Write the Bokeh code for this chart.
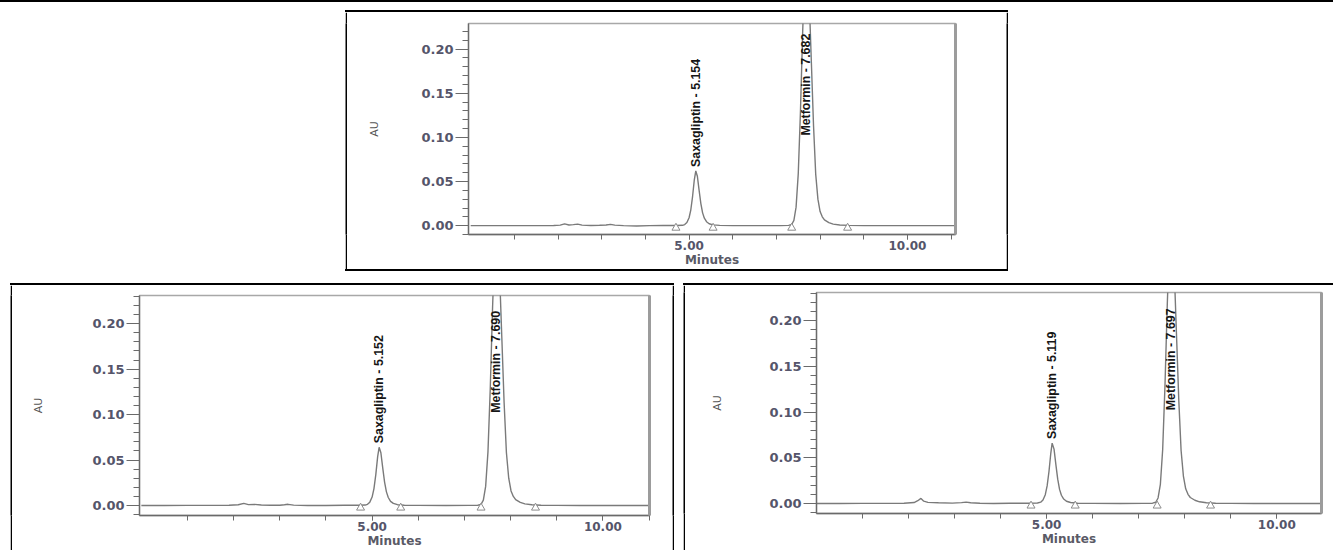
import math
from bokeh.plotting import figure
from bokeh.models import Range1d, FixedTicker, LinearAxis, NumeralTickFormatter, Spacer
from bokeh.layouts import row, column
from bokeh.embed import file_html
from bokeh.resources import INLINE
from bokeh.core.properties import value

# ---------------- data ----------------
peak_names = ["Saxagliptin", "Metformin"]

rt_top = [5.154, 7.682]
rt_bl = [5.152, 7.690]
rt_br = [5.119, 7.697]

apex_top = [0.062, 0.300]
apex_bl = [0.064, 0.300]
apex_br = [0.066, 0.300]

# baseline start / end markers (minutes)
marks_top = [4.70, 5.55, 7.35, 8.63]
marks_bl = [4.75, 5.62, 7.36, 8.54]
marks_br = [4.66, 5.62, 7.40, 8.56]

trace_top_t = [0.00, 0.50, 1.00, 1.50, 1.90, 2.05, 2.15, 2.25, 2.35, 2.45, 2.55, 2.75,
               2.95, 3.10, 3.20, 3.30, 3.50, 3.80, 4.10, 4.40, 4.70, 4.85, 4.90, 4.95,
               5.00, 5.04, 5.08, 5.12, 5.154, 5.19, 5.23, 5.27, 5.31, 5.35, 5.40, 5.46,
               5.55, 5.70, 6.00, 6.60, 7.10, 7.28, 7.35, 7.40, 7.45, 7.50, 7.55, 7.60,
               7.64, 7.682, 7.72, 7.76, 7.80, 7.85, 7.90, 7.95, 8.00, 8.05, 8.10, 8.20,
               8.30, 8.45, 8.65, 9.00, 9.50, 10.00, 11.20]
trace_top_au = [0.0000, 0.0000, 0.0001, 0.0001, 0.0002, 0.0006, 0.0020, 0.0008, 0.0012, 0.0018, 0.0006, 0.0002,
                0.0004, 0.0008, 0.0015, 0.0006, 0.0000, -0.0003, 0.0000, 0.0002, 0.0002, 0.0004, 0.0012, 0.0035,
                0.0090, 0.0180, 0.0330, 0.0520, 0.0620, 0.0560, 0.0400, 0.0250, 0.0145, 0.0085, 0.0045, 0.0022,
                0.0009, 0.0003, 0.0001, 0.0000, 0.0001, 0.0003, 0.0013, 0.0060, 0.0210, 0.0590, 0.1290, 0.2180,
                0.2770, 0.3000, 0.2830, 0.2430, 0.1850, 0.1130, 0.0580, 0.0300, 0.0160, 0.0100, 0.0065, 0.0035,
                0.0018, 0.0008, 0.0003, 0.0001, 0.0000, 0.0000, 0.0000]

trace_bl_t = [0.00, 0.50, 1.00, 1.50, 1.90, 2.10, 2.22, 2.32, 2.45, 2.60, 2.80, 3.00,
              3.10, 3.18, 3.30, 3.60, 4.00, 4.40, 4.70, 4.85, 4.90, 4.95, 5.00, 5.04,
              5.08, 5.12, 5.152, 5.19, 5.23, 5.27, 5.31, 5.35, 5.40, 5.46, 5.55, 5.70,
              6.00, 6.60, 7.10, 7.29, 7.36, 7.41, 7.46, 7.51, 7.56, 7.61, 7.65, 7.690,
              7.73, 7.77, 7.81, 7.86, 7.91, 7.96, 8.01, 8.06, 8.11, 8.21, 8.31, 8.46,
              8.66, 9.00, 9.50, 10.00, 11.20]
trace_bl_au = [0.0000, 0.0000, 0.0001, 0.0001, 0.0002, 0.0008, 0.0024, 0.0010, 0.0012, 0.0006, 0.0003, 0.0003,
               0.0008, 0.0013, 0.0004, 0.0000, 0.0000, 0.0002, 0.0002, 0.0005, 0.0013, 0.0037, 0.0093, 0.0186,
               0.0340, 0.0537, 0.0640, 0.0580, 0.0413, 0.0258, 0.0150, 0.0088, 0.0046, 0.0023, 0.0009, 0.0003,
               0.0001, 0.0000, 0.0001, 0.0003, 0.0013, 0.0060, 0.0210, 0.0590, 0.1290, 0.2180, 0.2770, 0.3000,
               0.2830, 0.2430, 0.1850, 0.1130, 0.0580, 0.0300, 0.0160, 0.0100, 0.0065, 0.0035, 0.0018, 0.0008,
               0.0003, 0.0001, 0.0000, 0.0000, 0.0000]

trace_br_t = [0.00, 0.50, 1.00, 1.50, 1.90, 2.12, 2.20, 2.27, 2.33, 2.42, 2.65, 2.95,
              3.15, 3.25, 3.35, 3.55, 3.85, 4.20, 4.60, 4.80, 4.87, 4.92, 4.97, 5.01,
              5.05, 5.09, 5.119, 5.16, 5.20, 5.24, 5.28, 5.32, 5.37, 5.43, 5.52, 5.67,
              6.00, 6.60, 7.10, 7.30, 7.37, 7.42, 7.47, 7.52, 7.57, 7.62, 7.66, 7.697,
              7.74, 7.78, 7.82, 7.87, 7.92, 7.97, 8.02, 8.07, 8.12, 8.22, 8.32, 8.47,
              8.67, 9.00, 9.50, 10.00, 11.20]
trace_br_au = [0.0000, 0.0000, 0.0001, 0.0001, 0.0003, 0.0010, 0.0030, 0.0055, 0.0025, 0.0012, 0.0008, 0.0004,
               0.0009, 0.0015, 0.0008, 0.0002, 0.0000, 0.0003, 0.0003, 0.0005, 0.0014, 0.0038, 0.0096, 0.0192,
               0.0350, 0.0552, 0.0660, 0.0595, 0.0425, 0.0266, 0.0154, 0.0090, 0.0048, 0.0024, 0.0010, 0.0003,
               0.0001, 0.0000, 0.0001, 0.0003, 0.0013, 0.0060, 0.0210, 0.0590, 0.1290, 0.2180, 0.2770, 0.3000,
               0.2830, 0.2430, 0.1850, 0.1130, 0.0580, 0.0300, 0.0160, 0.0100, 0.0065, 0.0035, 0.0018, 0.0008,
               0.0003, 0.0001, 0.0000, 0.0000, 0.0000]

y_major_ticks = [0.00, 0.05, 0.10, 0.15, 0.20]
y_minor_ticks = [-0.01, 0.00, 0.01, 0.02, 0.03, 0.04, 0.05, 0.06, 0.07, 0.08, 0.09, 0.10, 0.11,
                 0.12, 0.13, 0.14, 0.15, 0.16, 0.17, 0.18, 0.19, 0.20, 0.21, 0.22, 0.23]
x_major_ticks = [5, 10]
x_minor_ticks = [1, 2, 3, 4, 5, 6, 7, 8, 9, 10, 11]
x_title = "Minutes"
y_title = "AU"

LABEL_FONT = value("Liberation Sans")
AXIS_FONT = "DejaVu Sans"
LABEL_CAP = 0.102


def vbar(h):
    b = figure(width=2, height=h, x_range=Range1d(0, 1), y_range=Range1d(0, 1),
               title=None, toolbar_location=None, output_backend="svg", min_border=0,
               background_fill_color="black", border_fill_color="black",
               outline_line_color=None)
    b.axis.visible = False
    b.grid.visible = False
    return b


def hbar(w):
    return Spacer(width=w, height=2, styles={"background-color": "black"})


def chromatogram(t, au, rts, apex, marks, w, h, borders, xr, yr, au_standoff):
    p = figure(width=w, height=h, x_range=Range1d(*xr), y_range=Range1d(*yr),
               toolbar_location=None, output_backend="svg",
               min_border_left=borders[0], min_border_right=borders[1],
               min_border_top=borders[2], min_border_bottom=borders[3],
               background_fill_color="white", border_fill_color="white")
    p.grid.visible = False
    p.outline_line_color = "#a8a8a8"
    p.outline_line_width = 1.5

    # trace
    p.line(t, au, line_color="#7a7a7a", line_width=1.4)
    # baseline markers
    p.scatter(marks, [-0.0025] * len(marks), marker="triangle", size=8,
              fill_color="white", line_color="#8c8c8c", line_width=1)
    # peak labels
    labels = [f"{n} - {r:.3f}" for n, r in zip(peak_names, rts)]
    ly = [min(a + 0.0045, LABEL_CAP) for a in apex]
    p.text(x=rts, y=ly, text=labels, angle=math.pi / 2, text_align="left",
           text_baseline="middle", text_font=LABEL_FONT, text_font_size="12.4px",
           text_font_style="bold", text_color="#161616")

    # axes
    xa = p.xaxis[0]
    xa.ticker = FixedTicker(ticks=x_major_ticks, minor_ticks=x_minor_ticks)
    xa.formatter = NumeralTickFormatter(format="0.00")
    xa.axis_line_color = "#6a6a6a"
    xa.axis_line_width = 1.3
    xa.major_tick_in = 0
    xa.major_tick_out = 5
    xa.minor_tick_in = 0
    xa.minor_tick_out = 5
    xa.major_tick_line_color = "#6a6a6a"
    xa.minor_tick_line_color = "#6a6a6a"
    xa.major_label_standoff = 1
    xa.major_label_text_font = AXIS_FONT
    xa.major_label_text_font_style = "bold"
    xa.major_label_text_font_size = "12px"
    xa.major_label_text_color = "#55556a"
    xa.axis_label = x_title
    xa.axis_label_standoff = 0
    xa.axis_label_text_font = AXIS_FONT
    xa.axis_label_text_font_style = "bold"
    xa.axis_label_text_font_size = "12px"
    xa.axis_label_text_color = "#5a5a66"

    ya = p.yaxis[0]
    ya.ticker = FixedTicker(ticks=y_major_ticks, minor_ticks=y_minor_ticks)
    ya.formatter = NumeralTickFormatter(format="0.00")
    ya.axis_line_color = "#6a6a6a"
    ya.axis_line_width = 1.3
    ya.major_tick_in = 0
    ya.major_tick_out = 13
    ya.minor_tick_in = 0
    ya.minor_tick_out = 6
    ya.major_tick_line_color = "#6a6a6a"
    ya.minor_tick_line_color = "#6a6a6a"
    ya.major_label_standoff = 2
    ya.major_label_text_font = AXIS_FONT
    ya.major_label_text_font_style = "bold"
    ya.major_label_text_font_size = "13px"
    ya.major_label_text_color = "#55556a"
    ya.axis_label = y_title
    ya.axis_label_standoff = au_standoff
    ya.axis_label_text_font = AXIS_FONT
    ya.axis_label_text_font_style = "normal"
    ya.axis_label_text_font_size = "11px"
    ya.axis_label_text_color = "#555555"

    shadow = LinearAxis(ticker=FixedTicker(ticks=[]), axis_line_color="#9c9c9c",
                        axis_line_width=3, major_tick_line_color=None,
                        minor_tick_line_color=None)
    p.add_layout(shadow, "right")
    return p


fig_top = chromatogram(trace_top_t, trace_top_au, rt_top, apex_top, marks_top,
                       659, 257, (121, 51, 11, 34), (-0.05, 11.10), (-0.010, 0.229), 37)
fig_bl = chromatogram(trace_bl_t, trace_bl_au, rt_bl, apex_bl, marks_bl,
                      660, 265, (127, 23, 10, 35), (-0.04, 11.01), (-0.011, 0.231), 44)
fig_br = chromatogram(trace_br_t, trace_br_au, rt_br, apex_br, marks_br,
                      648, 265, (131, 12, 7, 37), (0.0, 10.97), (-0.011, 0.231), 42)

top_block = column(hbar(663), row(vbar(257), fig_top, vbar(257)), hbar(663))
bl_block = column(hbar(664), row(vbar(265), fig_bl, vbar(265)))
br_block = column(hbar(650), row(vbar(265), fig_br))

layout = column(
    hbar(1333),
    Spacer(width=1333, height=8),
    row(Spacer(width=345, height=261), top_block),
    Spacer(width=1333, height=12),
    row(Spacer(width=10, height=267), bl_block, Spacer(width=9, height=267), br_block),
)

open("out.html", "w").write(file_html(layout, INLINE))
